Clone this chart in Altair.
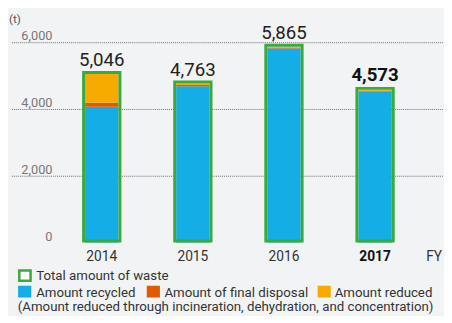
import altair as alt
import pandas as pd

# ---------------- data ----------------
years = ["2014", "2015", "2016", "2017"]
recycled = [4070, 4680, 5810, 4520]
final_disposal = [115, 35, 25, 28]
reduced = [861, 48, 30, 25]
totals = [5046, 4763, 5865, 4573]
total_labels = ["5,046", "4,763", "5,865", "4,573"]
y_ticks = [0, 2000, 4000, 6000]
y_tick_labels = ["0", "2,000", "4,000", "6,000"]
categories = ["Amount recycled", "Amount of final disposal", "Amount reduced"]
total_name = "Total amount of waste"
note = "(Amount reduced through incineration, dehydration, and concentration)"
unit = "(t)"
x_suffix = "FY"
highlight_year = "2017"

# ---------------- styles ----------------
colors = ["#15ade5", "#e05a00", "#f7aa00"]
green = "#3aaa3c"
bg = "#f2f3f5"
FONT = "Roboto"
LEG_FS = 13.5

W, H = 440, 204
PAD = {"left": 4, "top": 32, "right": 0, "bottom": 72}

rows = []
for i, y in enumerate(years):
    for k, (cat, vals) in enumerate(zip(categories, [recycled, final_disposal, reduced])):
        rows.append({"year": y, "category": cat, "value": vals[i], "ord": k})
stack_df = pd.DataFrame(rows)
tot_df = pd.DataFrame({"year": years, "total": totals, "label": total_labels})
tick_df = pd.DataFrame({"tick": y_ticks, "label": y_tick_labels})

xscale = alt.Scale(domain=years, paddingInner=0.6335, paddingOuter=0.688, align=0.5834)
yscale = alt.Scale(domain=[0, 6000], nice=False, zero=True)

grid = alt.Chart(tick_df).transform_filter(alt.datum.tick > 0).mark_rule(
    strokeDash=[1, 1], color="#6e6e6e", strokeWidth=1, yOffset=0.5
).encode(
    y=alt.Y("tick:Q", scale=yscale, axis=None, title=None),
    x=alt.value(0), x2=alt.value(W),
)

stack = alt.Chart(stack_df).mark_bar().encode(
    x=alt.X("year:N", scale=xscale,
            axis=alt.Axis(labels=False, ticks=False, title=None, grid=False,
                          domain=True, domainColor="#6f7391", domainWidth=1.8)),
    y=alt.Y("value:Q", stack="zero", scale=yscale, axis=None, title=None),
    color=alt.Color("category:N", scale=alt.Scale(domain=categories, range=colors), legend=None),
    order=alt.Order("ord:Q"),
)

outline = alt.Chart(tot_df).mark_bar(
    fill="transparent", stroke=green, strokeWidth=3, size=37, yOffset=-1.5, y2Offset=-1.5
).encode(
    x=alt.X("year:N", scale=xscale, axis=None),
    y=alt.Y("total:Q", scale=yscale, axis=None, title=None),
    y2=alt.datum(0),
)

lab_normal = alt.Chart(tot_df).transform_filter(
    alt.datum.year != highlight_year
).mark_text(font=FONT, fontSize=19, color="#222", dy=-8, baseline="alphabetic").encode(
    x=alt.X("year:N", scale=xscale, axis=None),
    y=alt.Y("total:Q", scale=yscale, axis=None, title=None),
    text="label:N",
)
lab_bold = alt.Chart(tot_df).transform_filter(
    alt.datum.year == highlight_year
).mark_text(font=FONT, fontSize=19, fontWeight="bold", color="#111", dy=-9, baseline="alphabetic").encode(
    x=alt.X("year:N", scale=xscale, axis=None),
    y=alt.Y("total:Q", scale=yscale, axis=None, title=None),
    text="label:N",
)

yr_normal = alt.Chart(tot_df).transform_filter(
    alt.datum.year != highlight_year
).mark_text(font=FONT, fontSize=14, color="#333", baseline="alphabetic").encode(
    x=alt.X("year:N", scale=xscale, axis=None),
    y=alt.value(223),
    text="year:N",
)
yr_bold = alt.Chart(tot_df).transform_filter(
    alt.datum.year == highlight_year
).mark_text(font=FONT, fontSize=14, fontWeight="bold", color="#111", baseline="alphabetic").encode(
    x=alt.X("year:N", scale=xscale, axis=None),
    y=alt.value(223),
    text="year:N",
)

ticks = alt.Chart(tick_df).mark_text(
    font=FONT, fontSize=13, color="#777", align="right", baseline="alphabetic", dy=-2
).encode(
    x=alt.value(41.3),
    y=alt.Y("tick:Q", scale=yscale, axis=None, title=None),
    text="label:N",
)

one = alt.Data(values=[{"a": 1}])


def txt(s, x, y, size=LEG_FS, color="#333", align="left", weight="normal"):
    return alt.Chart(one).mark_text(
        text=s, font=FONT, fontSize=size, color=color, align=align,
        baseline="alphabetic", fontWeight=weight
    ).encode(x=alt.value(x), y=alt.value(y))


def box(x0, x1, y0, y1, fill, stroke=None, sw=0):
    kw = {"fill": fill}
    if stroke:
        kw.update(stroke=stroke, strokeWidth=sw)
    return alt.Chart(one).mark_rect(**kw).encode(
        x=alt.value(x0), x2=alt.value(x1), y=alt.value(y0), y2=alt.value(y1))


layers = [grid, stack, outline, lab_normal, lab_bold, yr_normal, yr_bold, ticks,
          txt(unit, -3, -20, size=12, color="#555"),
          txt(x_suffix, 438, 223, size=14, color="#333", align="right")]

# legend
layers.append(box(7.5, 19, 232.5, 243, "#ffffff", green, 2.5))
layers.append(txt(total_name, 24.7, 242.3))
leg_sq_x = [6.3, 137.3, 311.3]
leg_tx_x = [24.7, 155.3, 328.7]
for cat, col, sx, tx in zip(categories, colors, leg_sq_x, leg_tx_x):
    layers.append(box(sx, sx + 13.4, 248, 260, col))
    layers.append(txt(cat, tx, 259))
layers.append(txt(note, 6, 273.5))

chart = alt.layer(*layers).properties(
    width=W, height=H,
    autosize=alt.AutoSizeParams(type="none"),
    padding=PAD,
).configure(background=bg).configure_view(stroke=None)

chart.save("out.html", embed_options={"renderer": "svg", "actions": False})
